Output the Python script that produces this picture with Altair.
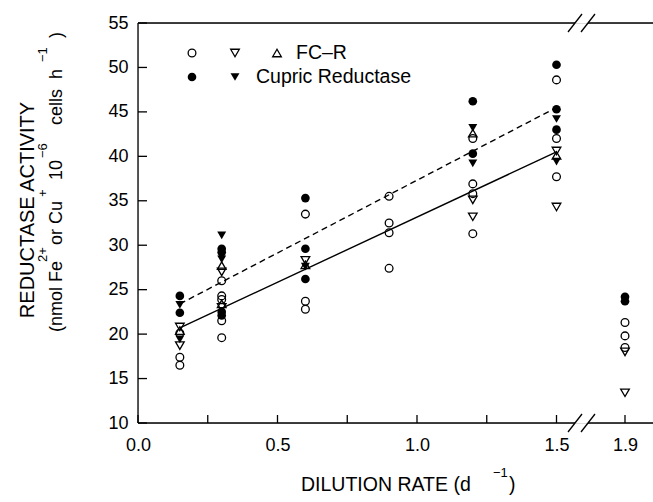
import altair as alt
import pandas as pd

# ---------------- data ----------------
# FC-R (open symbols)
fcr_circle_x = [0.15, 0.15, 0.15, 0.3, 0.3, 0.3, 0.3, 0.3, 0.6, 0.6, 0.6,
                0.9, 0.9, 0.9, 0.9, 1.2, 1.2, 1.2, 1.2, 1.5, 1.5, 1.5, 1.9, 1.9, 1.9]
fcr_circle_y = [20.1, 17.4, 16.5, 26.0, 24.3, 23.9, 21.5, 19.6, 33.5, 23.7, 22.8,
                35.5, 32.5, 31.4, 27.4, 42.0, 36.9, 35.8, 31.3, 48.6, 42.0, 37.7, 21.3, 19.8, 18.5]
fcr_tdown_x = [0.15, 0.15, 0.3, 0.3, 0.6, 1.2, 1.2, 1.5, 1.5, 1.9, 1.9]
fcr_tdown_y = [20.8, 18.7, 27.0, 23.0, 28.3, 35.1, 33.2, 40.6, 34.3, 18.0, 13.4]
fcr_tup_x = [0.15, 0.3, 0.3, 0.6, 1.2, 1.5]
fcr_tup_y = [20.4, 27.7, 23.4, 27.8, 42.6, 40.1]
# Cupric reductase (filled symbols)
cu_circle_x = [0.15, 0.15, 0.3, 0.3, 0.3, 0.3, 0.6, 0.6, 0.6, 1.2, 1.2, 1.5, 1.5, 1.5, 1.9, 1.9]
cu_circle_y = [24.3, 22.4, 29.6, 29.2, 22.5, 22.1, 35.3, 29.6, 26.2, 46.2, 40.3, 50.3, 45.3, 43.0, 24.2, 23.7]
cu_tdown_x = [0.15, 0.15, 0.3, 0.3, 0.6, 1.2, 1.2, 1.5, 1.5]
cu_tdown_y = [23.3, 19.4, 31.1, 28.4, 27.6, 43.2, 39.2, 44.2, 39.4]
# regression lines
fit_x = [0.15, 1.5]
fcr_fit_y = [20.7, 40.5]
cu_fit_y = [23.4, 45.5]
# ticks
y_ticks = [10, 15, 20, 25, 30, 35, 40, 45, 50, 55]
x_ticks = [0.0, 0.25, 0.5, 0.75, 1.0, 1.25, 1.5, 1.9]

FONT = "Liberation Sans, Arial, Helvetica, sans-serif"
W, H = 515, 400

xscale = alt.Scale(domain=[0, 1.5, 1.9, 2.0], range=[0, 418.5, 487, 515], zero=False, nice=False)
yscale = alt.Scale(domain=[10, 55], zero=False, nice=False)

X_AXIS = alt.Axis(
    values=x_ticks,
    labelExpr="indexof([0.25,0.75,1.25], datum.value) >= 0 ? '' : format(datum.value, '.1f')",
    domain=False, ticks=False, grid=False, labelPadding=13, labelFlush=False,
    labelFontSize=18, labelFont=FONT, labelColor="black", title=None)
Y_AXIS = alt.Axis(
    values=y_ticks, domain=False, ticks=False, grid=False, labelPadding=10,
    labelFontSize=18, labelFont=FONT, labelColor="black", title=None)


def pts(xs, ys):
    return pd.DataFrame({"x": xs, "y": ys})


def point_layer(xs, ys, shape, filled, size):
    return alt.Chart(pts(xs, ys)).mark_point(
        shape=shape, filled=filled, size=size, color="black",
        strokeWidth=1.3, opacity=1
    ).encode(
        x=alt.X("x:Q", scale=xscale, axis=X_AXIS),
        y=alt.Y("y:Q", scale=yscale, axis=Y_AXIS),
    )


one = pd.DataFrame({"a": [0]})


def rule(x1, y1, x2, y2, color="black", sw=1.3):
    return alt.Chart(one).mark_rule(color=color, strokeWidth=sw).encode(
        x=alt.value(x1), y=alt.value(y1), x2=alt.value(x2), y2=alt.value(y2))


def txt(s, x, y, size=17, angle=0, align="left", baseline="middle"):
    return alt.Chart(one).mark_text(
        text=s, fontSize=size, font=FONT, angle=angle, align=align,
        baseline=baseline, color="black").encode(x=alt.value(x), y=alt.value(y))


def legend_pt(x, y, shape, filled, size):
    return alt.Chart(one).mark_point(
        shape=shape, filled=filled, size=size, color="black", strokeWidth=1.3, opacity=1
    ).encode(x=alt.value(x), y=alt.value(y))


layers = []

# data points first (they carry the axes)
layers.append(point_layer(fcr_circle_x, fcr_circle_y, "circle", False, 60))
layers.append(point_layer(fcr_tdown_x, fcr_tdown_y, "triangle-down", False, 75))
layers.append(point_layer(fcr_tup_x, fcr_tup_y, "triangle-up", False, 75))
layers.append(point_layer(cu_circle_x, cu_circle_y, "circle", True, 75))
layers.append(point_layer(cu_tdown_x, cu_tdown_y, "triangle-down", True, 80))

# regression lines
layers.append(alt.Chart(pts(fit_x, fcr_fit_y)).mark_line(color="black", strokeWidth=1.4).encode(
    x=alt.X("x:Q", scale=xscale, axis=X_AXIS), y=alt.Y("y:Q", scale=yscale, axis=Y_AXIS)))
layers.append(alt.Chart(pts(fit_x, cu_fit_y)).mark_line(color="black", strokeWidth=1.4, strokeDash=[6, 4]).encode(
    x=alt.X("x:Q", scale=xscale, axis=X_AXIS), y=alt.Y("y:Q", scale=yscale, axis=Y_AXIS)))

# inward ticks
layers.append(alt.Chart(pd.DataFrame({"y": y_ticks})).mark_rule(color="black", strokeWidth=1.3).encode(
    y=alt.Y("y:Q", scale=yscale, axis=Y_AXIS), x=alt.value(0), x2=alt.value(9)))
layers.append(alt.Chart(pd.DataFrame({"x": x_ticks})).mark_rule(color="black", strokeWidth=1.3).encode(
    x=alt.X("x:Q", scale=xscale, axis=X_AXIS), y=alt.value(H), y2=alt.value(H - 8)))

# frame with axis breaks
layers += [
    rule(0, 0, 0, H),
    rule(0, H, 437, H), rule(450, H, W, H),
    rule(0, 0, 437, 0), rule(450, 0, W, 0),
    rule(430, 9, 444, -9), rule(443, 9, 457, -9),
    rule(430, H + 9, 444, H - 9), rule(443, H + 9, 457, H - 9),
]

# legend
layers += [
    legend_pt(54, 30, "circle", False, 60),
    legend_pt(97, 30, "triangle-down", False, 75),
    legend_pt(139, 30, "triangle-up", False, 75),
    txt("FC\u2013R", 158, 30, size=19.5),
    legend_pt(54, 54, "circle", True, 75),
    legend_pt(97, 54, "triangle-down", True, 80),
    txt("Cupric Reductase", 118, 54, size=19.5),
]

# y title
layers += [
    txt("REDUCTASE ACTIVITY", -110, 187, size=20, angle=270, align="center"),
    txt("(nmol Fe", -81, 309, size=18, angle=270),
    txt("2+", -95, 239, size=13, angle=270),
    txt("or Cu", -81, 222, size=18, angle=270),
    txt("+", -95, 174, size=13, angle=270),
    txt("10", -81, 157, size=18, angle=270),
    txt("\u22126", -95, 135, size=13, angle=270),
    txt("cells\u00a0\u00a0h", -81, 102, size=18, angle=270),
    txt("\u22121", -95, 39, size=13, angle=270),
    txt(")", -81, 15, size=18, angle=270),
]

# x title
layers += [
    txt("DILUTION RATE (d", 163, 462, size=19.5),
    txt("\u22121", 355, 450, size=13),
    txt(")", 371, 462, size=19.5),
]

chart = alt.layer(*layers).properties(
    width=W, height=H,
    autosize=alt.AutoSizeParams(type="none"),
    padding={"left": 138, "top": 23, "right": 0, "bottom": 79},
).configure_view(stroke=None).configure(background="white")

chart.save("out.html", embed_options={"renderer": "svg", "actions": False})
